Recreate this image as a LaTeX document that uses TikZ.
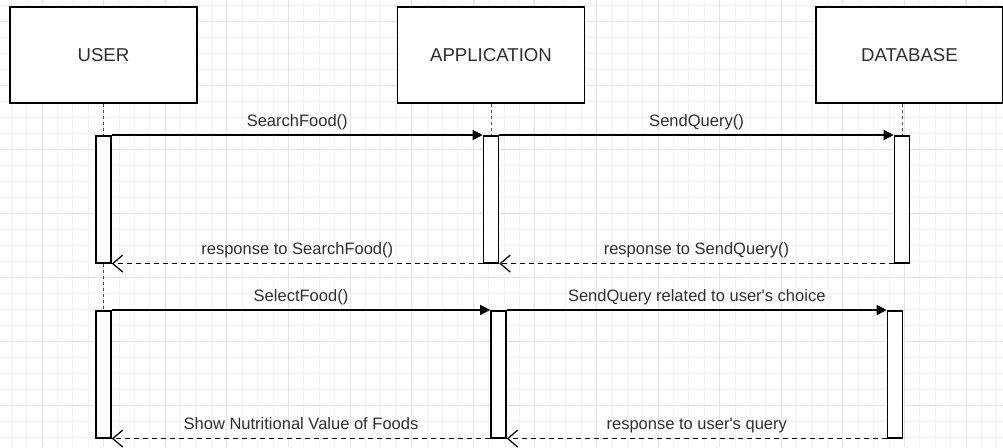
\documentclass[tikz,border=0pt]{standalone}
\usepackage{fontspec}
\setmainfont{Liberation Sans}
\usetikzlibrary{arrows.meta}
\definecolor{gridmaior}{HTML}{E4E4E4}
\definecolor{gridmenor}{HTML}{F4F4F4}
\definecolor{texto}{HTML}{2E2E2E}

\begin{document}
\begin{tikzpicture}[x=0.02cm, y=-0.02cm,
  actor/.style={draw=black, fill=white, line width=0.9pt, minimum width=3.74cm, minimum height=1.92cm,
    inner sep=0pt, font=\fontsize{10.6}{12}\selectfont, text=texto},
  bar/.style={draw=black, fill=white, line width=0.9pt, minimum width=0.3cm, minimum height=2.54cm,
    inner sep=0pt, anchor=north},
  msg/.style={line width=0.7pt, -{Triangle[length=0.2cm, width=0.2cm]}},
  reply/.style={line width=0.7pt, dash pattern=on 0.1cm off 0.08cm, -{Straight Barb[length=0.2cm, width=0.34cm]}},
  life/.style={line width=0.5pt, black!70, dash pattern=on 0.06cm off 0.06cm},
  lbl/.style={font=\fontsize{9.4}{11}\selectfont, text=texto, anchor=base, inner sep=0pt, yshift=0.18cm}]
  % Coordenadas em pixeis da imagem (1 px = 0.02 cm, y para baixo): a grelha fina
  % de 4 em 4, as tres caixas de cima e depois duas rondas de pedido e resposta.
  \useasboundingbox (0,0) rectangle (1003,447);
  \foreach \i in {0,...,65} \draw[gridmenor, line width=0.4pt] ({-4.2+15.4*\i},0) -- ({-4.2+15.4*\i},447);
  \foreach \j in {0,...,27} \draw[gridmenor, line width=0.4pt] (0,{5+16*\j}) -- (1003,{5+16*\j});
  \foreach \i in {0,...,15} \draw[gridmaior, line width=0.4pt] ({42+61.6*\i},0) -- ({42+61.6*\i},447);
  \foreach \j in {0,...,6} \draw[gridmaior, line width=0.4pt] (0,{21+64*\j}) -- (1003,{21+64*\j});

  \node[actor] (user) at (103.5,55) {USER};
  \node[actor] (app) at (491,55) {APPLICATION};
  \node[actor] (db) at (909.5,55) {DATABASE};

  \node[bar] (u1) at (103.5,135) {};
  \node[bar] (a1) at (491,135) {};
  \node[bar] (d1) at (902,135) {};
  \node[bar] (u2) at (103.5,310) {};
  \node[bar] (a2) at (498.5,310) {};
  \node[bar] (d2) at (895,310) {};

  \draw[life] (user.south) -- (u1.north);
  \draw[life] (u1.south) -- (u2.north);
  \draw[life] (app.south) -- (a1.north);
  \draw[life] (d1.north |- db.south) -- (d1.north);

  \draw[msg] (u1.north east) -- (a1.north west) node[lbl, midway] (l1) {SearchFood()};
  \draw[msg] (a1.north east) -- (d1.north west) node[lbl, midway] (l2) {SendQuery()};
  \draw[reply] (d1.south west) -- (a1.south east) node[lbl, midway] (l3) {response to SendQuery()};
  \draw[reply] (a1.south west) -- (u1.south east) node[lbl, midway] (l4) {response to SearchFood()};
  \draw[msg] (u2.north east) -- (a2.north west) node[lbl, midway] (l5) {SelectFood()};
  \draw[msg] (a2.north east) -- (d2.north west) node[lbl, midway] (l6) {SendQuery related to user\textquotesingle s choice};
  \draw[reply] (a2.south west) -- (u2.south east) node[lbl, midway] (l7) {Show Nutritional Value of Foods};
  \draw[reply] (d2.south west) -- (a2.south east) node[lbl, midway] (l8) {response to user\textquotesingle s query};
\end{tikzpicture}
\end{document}
